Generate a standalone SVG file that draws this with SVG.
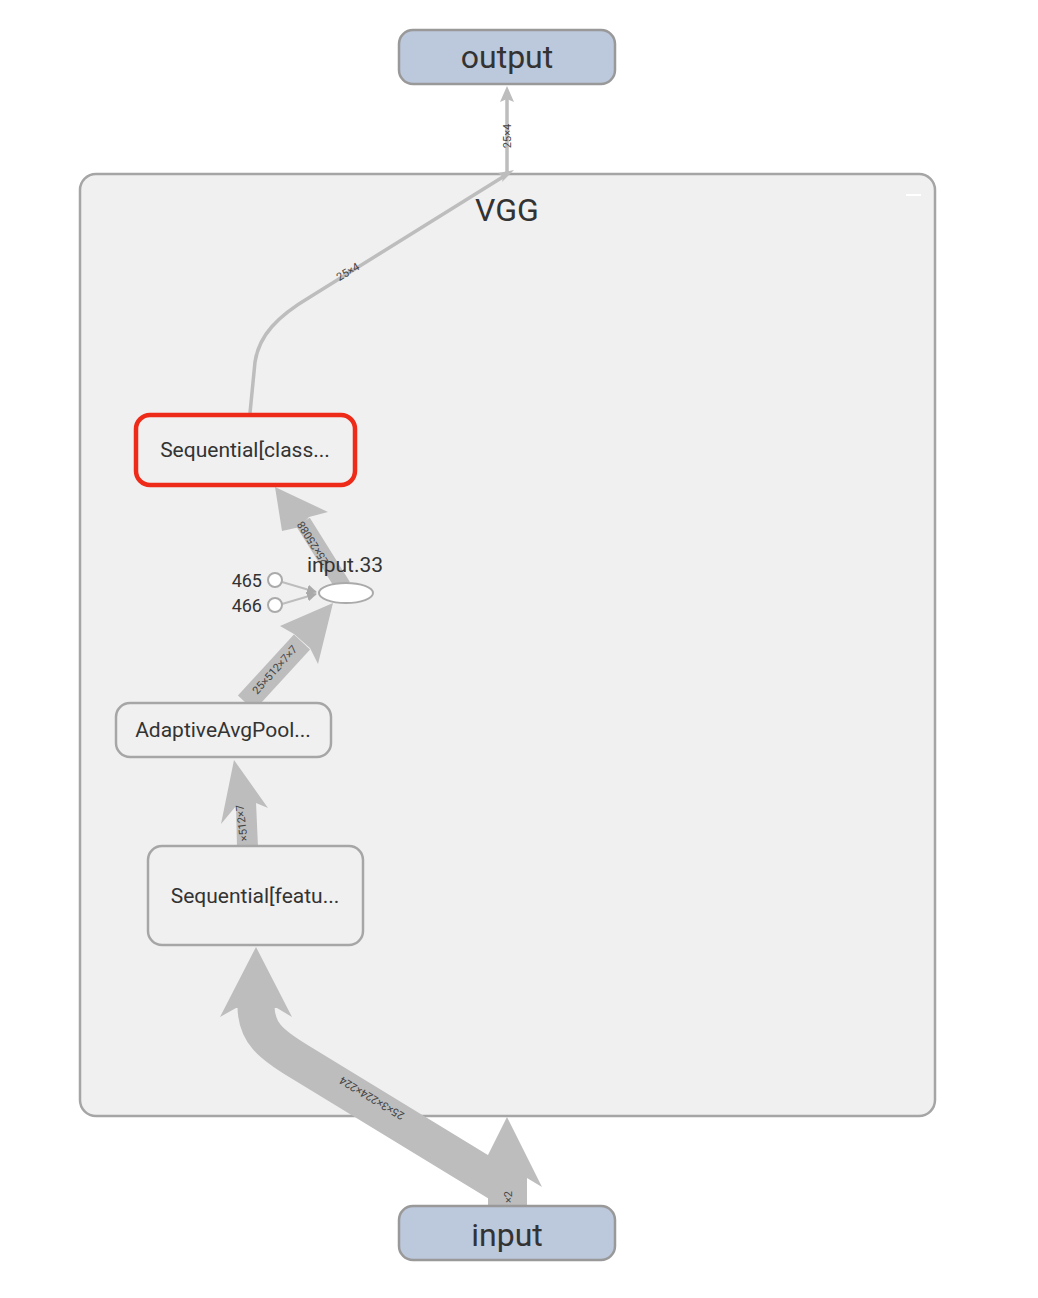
<svg xmlns="http://www.w3.org/2000/svg" width="1038" height="1298" viewBox="0 0 1038 1298">
<defs>
<style>
.lbl{font-family:Roboto,"Liberation Sans",sans-serif;fill:#333;}
.elbl{font-family:Roboto,"Liberation Sans",sans-serif;fill:#444;font-size:11px;text-anchor:middle;dominant-baseline:central;}
.io{fill:#bcc8dc;stroke:#999;stroke-width:2.5;}
.op{fill:#f0f0f0;stroke:#a6a6a6;stroke-width:2.5;}
.shaft{fill:none;stroke:#bdbdbd;stroke-linecap:butt;}
.head{fill:#bdbdbd;stroke:none;}
.thin{fill:none;stroke:#bdbdbd;stroke-width:2;}
</style>
<marker id="ah" viewBox="0 0 10 10" refX="9" refY="5" markerWidth="5" markerHeight="5" orient="auto" markerUnits="strokeWidth">
<path d="M0,0 L10,5 L0,10 z" fill="#aaa"/>
</marker>
</defs>
<rect width="1038" height="1298" fill="#ffffff"/>

<g id="VGG">
<rect x="80" y="174" width="855" height="942" rx="16" fill="#f0f0f0" stroke="#a5a5a5" stroke-width="2.5"/>
<line x1="906" y1="195" x2="921" y2="195" stroke="#ffffff" stroke-width="2"/>
<text class="lbl" x="507" y="221" font-size="32" text-anchor="middle">VGG</text>
</g>

<g id="connectors">
<!-- VGG -> output -->
<line class="shaft" x1="507" y1="172" x2="507" y2="96" stroke-width="3.5"/>
<polygon class="head" points="507,86 500,102 507,99 514,102"/>
<text class="elbl" transform="translate(507,136) rotate(-90)">25×4</text>
<!-- Sequential[class -> VGG out -->
<path class="shaft" d="M250,413 L255,362 C259,335 278,316 310,297 L506,175" stroke-width="3.5"/>
<polygon class="head" points="514,170 498,173 503,177 502,182"/>
<text class="elbl" transform="translate(348,272) rotate(-31)">25×4</text>
<!-- input.33 -> Sequential[class -->
<line class="shaft" x1="343" y1="586" x2="303" y2="522" stroke-width="16"/>
<polygon class="head" points="275,487 328,512 309,517 300,527 282,531"/>
<text class="elbl" transform="translate(313,543) rotate(-122)">25×25088</text>
<!-- 465/466 -> input.33 -->
<line class="thin" x1="282" y1="582" x2="316" y2="592" marker-end="url(#ah)"/>
<line class="thin" x1="282" y1="604" x2="316" y2="594" marker-end="url(#ah)"/>
<!-- AdaptiveAvgPool -> input.33 -->
<line class="shaft" x1="246" y1="703" x2="302" y2="642" stroke-width="22"/>
<polygon class="head" points="333,603 318,664 310,648 294,634 280,626"/>
<text class="elbl" transform="translate(275,670) rotate(-48)">25×512×7×7</text>
<!-- Sequential[featu -> AdaptiveAvgPool -->
<polygon class="head" points="237,847 258,847 256,802 236,805"/>
<polygon class="head" points="234,760 268,808 256,803 236,806 221,824"/>
<text class="elbl" transform="translate(242,823) rotate(-97)">×512×7</text>
<!-- input -> Sequential[featu (curved) -->
<path class="shaft" d="M505,1187 L300,1062 C270,1044 256,1032 256,1006" stroke-width="37"/>
<polygon class="head" points="256,947 292,1017 277,1008 236,1008 220,1017"/>
<text class="elbl" font-size="13" transform="translate(372,1098) rotate(-149)">25×3×224×224</text>
<!-- input -> VGG -->
<rect x="488" y="1176" width="39" height="31" fill="#bdbdbd"/>
<polygon class="head" points="507,1117 542,1187 527,1178 488,1181 472,1187"/>
<text class="elbl" font-size="9" transform="translate(508,1197) rotate(-90)">×2</text>
</g>

<g id="node-output">
<rect class="io" x="399" y="30" width="216" height="54" rx="14"/>
<text class="lbl" x="507" y="68" font-size="32" text-anchor="middle">output</text>
</g>

<g id="node-input">
<rect class="io" x="399" y="1206" width="216" height="54" rx="14"/>
<text class="lbl" x="507" y="1246" font-size="32" text-anchor="middle">input</text>
</g>

<g id="node-seq-class">
<rect x="136" y="415" width="219" height="70" rx="14" fill="#f0f0f0" stroke="#ee2a18" stroke-width="4.5"/>
<text class="lbl" x="245" y="457" font-size="21" text-anchor="middle">Sequential[class...</text>
</g>

<g id="node-input33">
<ellipse cx="346" cy="593" rx="27" ry="10" fill="#ffffff" stroke="#aaa" stroke-width="2"/>
<text class="lbl" x="345" y="572" font-size="21" text-anchor="middle">input.33</text>
</g>

<g id="node-465">
<circle cx="275" cy="580" r="7" fill="#ffffff" stroke="#aaa" stroke-width="2"/>
<text class="lbl" x="262" y="587" font-size="18" text-anchor="end">465</text>
</g>

<g id="node-466">
<circle cx="275" cy="605" r="7" fill="#ffffff" stroke="#aaa" stroke-width="2"/>
<text class="lbl" x="262" y="612" font-size="18" text-anchor="end">466</text>
</g>

<g id="node-adaptive">
<rect class="op" x="116" y="703" width="215" height="54" rx="14"/>
<text class="lbl" x="223" y="737" font-size="21" text-anchor="middle">AdaptiveAvgPool...</text>
</g>

<g id="node-seq-feat">
<rect class="op" x="148" y="846" width="215" height="99" rx="14"/>
<text class="lbl" x="255" y="903" font-size="21" text-anchor="middle">Sequential[featu...</text>
</g>
</svg>
